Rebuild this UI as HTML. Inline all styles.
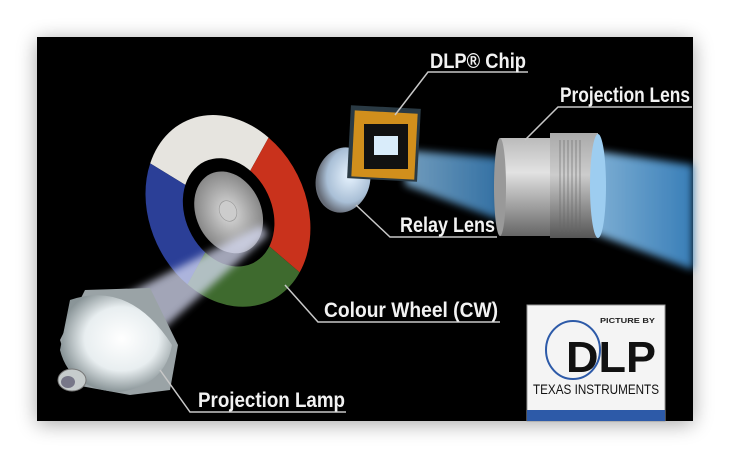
<!DOCTYPE html>
<html><head><meta charset="utf-8"><style>
html,body{margin:0;padding:0;background:#fff;width:730px;height:458px;overflow:hidden}
svg{display:block}
text{font-family:"Liberation Sans Narrow","Liberation Sans",sans-serif;font-weight:bold;fill:#f2f2f2}
</style></head><body>
<svg width="730" height="458" viewBox="0 0 730 458">
<defs>
<filter id="sh" x="-10%" y="-10%" width="120%" height="120%"><feGaussianBlur stdDeviation="10"/></filter>
<filter id="bl"><feGaussianBlur stdDeviation="4"/></filter>
<linearGradient id="beam" x1="0" y1="0" x2="1" y2="0"><stop offset="0" stop-color="#8fc4ec"/><stop offset="1" stop-color="#3f8ccc"/></linearGradient>
<linearGradient id="cyl" x1="0" y1="0" x2="0" y2="1"><stop offset="0" stop-color="#bbb"/><stop offset=".35" stop-color="#e2e2e2"/><stop offset="1" stop-color="#666"/></linearGradient>
<linearGradient id="ring" x1="0" y1="0" x2="0" y2="1"><stop offset="0" stop-color="#aaa"/><stop offset=".4" stop-color="#ccc"/><stop offset="1" stop-color="#555"/></linearGradient>
<radialGradient id="lamp" cx=".55" cy=".45" r=".55"><stop offset="0" stop-color="#fff"/><stop offset=".6" stop-color="#e8eef0"/><stop offset="1" stop-color="#8a9598"/></radialGradient>
<radialGradient id="hub" cx=".5" cy=".5" r=".5"><stop offset="0" stop-color="#ddd"/><stop offset="1" stop-color="#888"/></radialGradient>
<radialGradient id="rl" cx=".6" cy=".4" r=".6"><stop offset="0" stop-color="#e8f4ff"/><stop offset=".7" stop-color="#a9bfd6"/><stop offset="1" stop-color="#666c77"/></radialGradient>
</defs>
<rect x="37" y="40" width="656" height="384" fill="#000" opacity=".35" filter="url(#sh)"/>
<rect x="37" y="37" width="656" height="384" fill="#000"/>
<polygon points="405,150 500,158 500,220 405,185" fill="url(#beam)" opacity=".8" filter="url(#bl)"/>
<polygon points="590,150 693,165 693,270 590,232" fill="url(#beam)" opacity=".9" filter="url(#bl)"/>
<g transform="translate(228,211) rotate(-25) scale(0.6,0.76)">
<path d="M0,0 L-84,-100 A130,130 0 0 1 113,-65 Z" fill="#e6e4df"/>
<path d="M0,0 L113,-65 A130,130 0 0 1 65,113 Z" fill="#c9321c"/>
<path d="M0,0 L65,113 A130,130 0 0 1 -113,65 Z" fill="#3e6a2e"/>
<path d="M0,0 L-113,65 A130,130 0 0 1 -84,-100 Z" fill="#2b3f97"/>
<ellipse cy="2" rx="72" ry="74" fill="#000"/>
<ellipse cy="2" rx="54" ry="56" fill="url(#hub)"/>
<circle r="14" fill="#ccc" stroke="#999"/>
</g>
<polygon points="115,300 145,345 268,235 262,225" fill="#d8dcf4" opacity=".75" filter="url(#bl)"/>
<path d="M85,290 L150,288 L178,345 L170,390 L130,395 L75,385 L60,340 Z" fill="#9aa3a6"/>
<path d="M70,300 Q130,280 172,345 Q165,385 120,392 Q70,390 60,350 Z" fill="url(#lamp)"/>
<ellipse cx="72" cy="380" rx="14" ry="11" fill="#c6cccc" stroke="#777"/>
<ellipse cx="68" cy="382" rx="7" ry="6" fill="#778"/>
<ellipse cx="343" cy="180" rx="27" ry="33" fill="url(#rl)" transform="rotate(15 343 180)"/>
<rect x="349" y="107" width="70" height="73" fill="#2a3a44" transform="rotate(3 384 143)"/>
<rect x="353" y="112" width="63" height="66" fill="#d18f1c" transform="rotate(3 384 145)"/>
<rect x="364" y="124" width="44" height="45" fill="#111"/>
<rect x="374" y="136" width="24" height="19" fill="#d9ecfa"/>
<rect x="500" y="138" width="55" height="98" fill="url(#cyl)"/>
<ellipse cx="500" cy="187" rx="6" ry="49" fill="#999"/>
<rect x="550" y="133" width="48" height="105" fill="url(#ring)"/>
<g stroke="#666" stroke-width="1" opacity=".6">
<line x1="560" y1="140" x2="560" y2="232"/><line x1="564" y1="140" x2="564" y2="232"/><line x1="568" y1="140" x2="568" y2="232"/><line x1="572" y1="140" x2="572" y2="232"/><line x1="576" y1="140" x2="576" y2="232"/><line x1="580" y1="140" x2="580" y2="232"/>
</g>
<ellipse cx="598" cy="186" rx="8" ry="52" fill="#9dcdf0"/>
<g stroke="#c8c8c8" stroke-width="1.5" fill="none">
<polyline points="395,115 428,72 528,72"/>
<polyline points="525,140 558,107 692,107"/>
<polyline points="356,205 390,237 497,237"/>
<polyline points="285,285 318,322 500,322"/>
<polyline points="160,370 190,412 346,412"/>
</g>
<g font-size="21">
<text x="430" y="68" textLength="96" lengthAdjust="spacingAndGlyphs">DLP® Chip</text>
<text x="560" y="102" textLength="130" lengthAdjust="spacingAndGlyphs">Projection Lens</text>
<text x="400" y="232" textLength="95" lengthAdjust="spacingAndGlyphs">Relay Lens</text>
<text x="324" y="317" textLength="174" lengthAdjust="spacingAndGlyphs">Colour Wheel (CW)</text>
<text x="198" y="407" textLength="147" lengthAdjust="spacingAndGlyphs">Projection Lamp</text>
</g>
<rect x="527" y="305" width="138" height="116" fill="#f4f4f4" stroke="#999"/>
<rect x="527" y="410" width="138" height="11" fill="#2d5aa8"/>
<ellipse cx="573" cy="350" rx="27" ry="29" fill="none" stroke="#2d5aa8" stroke-width="2"/>
<text x="600" y="323" font-size="7" style="fill:#222" textLength="55" lengthAdjust="spacingAndGlyphs">PICTURE BY</text>
<text x="566" y="372" font-size="44" style="fill:#111" textLength="90" lengthAdjust="spacingAndGlyphs">DLP</text>
<text x="533" y="394" font-size="14" style="fill:#111;font-weight:normal" textLength="126" lengthAdjust="spacingAndGlyphs">TEXAS INSTRUMENTS</text>
</svg>
</body></html>
